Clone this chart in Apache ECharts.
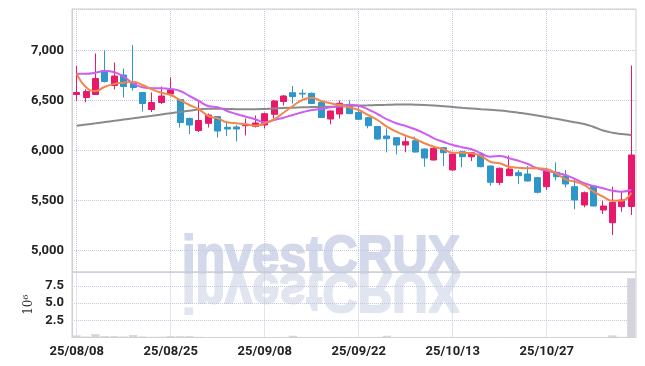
<!DOCTYPE html>
<html><head><meta charset="utf-8">
<script src="https://cdn.jsdelivr.net/npm/echarts@6/dist/echarts.min.js"></script>
<style>html,body{margin:0;padding:0;background:#fff}#c{width:645px;height:366px}</style>
</head><body><div id="c"></div>
<script>
const dates = ['25/08/08','25/08/11','25/08/12','25/08/13','25/08/14','25/08/18','25/08/19','25/08/20','25/08/21','25/08/22',
'25/08/25','25/08/26','25/08/27','25/08/28','25/08/29','25/09/01','25/09/02','25/09/03','25/09/04','25/09/05',
'25/09/08','25/09/09','25/09/10','25/09/11','25/09/12','25/09/15','25/09/16','25/09/17','25/09/18','25/09/19',
'25/09/22','25/09/23','25/09/24','25/09/25','25/09/26','25/09/29','25/09/30','25/10/01','25/10/02','25/10/10',
'25/10/13','25/10/14','25/10/15','25/10/16','25/10/17','25/10/20','25/10/21','25/10/22','25/10/23','25/10/24',
'25/10/27','25/10/28','25/10/29','25/10/30','25/10/31','25/11/03','25/11/04','25/11/05','25/11/06','25/11/07'];
const opens  = [6560,6530,6560,6800,6650,6755,6670,6580,6410,6480,6565,6510,6320,6200,6272,6340,6232,6235,6248,6240,
6255,6362,6490,6578,6572,6572,6480,6315,6365,6445,6380,6328,6240,6145,6128,6055,6098,6015,5905,6028,
5805,5988,5938,5962,5845,5680,5748,5778,5765,5728,5638,5782,5745,5638,5455,5645,5405,5278,5438,5440];
const closes = [6580,6590,6720,6690,6745,6640,6630,6470,6480,6545,6605,6280,6255,6300,6355,6195,6215,6215,6262,6275,
6368,6495,6545,6540,6565,6470,6330,6395,6472,6368,6312,6248,6115,6118,6055,6088,5985,5925,6022,5978,
5965,5938,5978,5838,5682,5822,5815,5748,5695,5582,5795,5738,5665,5505,5578,5445,5445,5482,5505,5955];
const lows   = [6495,6482,6555,6680,6610,6530,6600,6390,6385,6465,6540,6230,6165,6185,6230,6130,6145,6090,6150,6230,
6220,6320,6450,6470,6522,6465,6325,6262,6320,6365,6305,6222,6105,5982,5962,5982,5980,5838,5900,5845,
5800,5832,5895,5832,5648,5655,5745,5665,5690,5570,5605,5702,5632,5412,5432,5440,5365,5155,5388,5355];
const highs  = [6845,6612,6970,7000,6880,6820,7055,6585,6580,6640,6730,6515,6330,6495,6370,6345,6280,6255,6320,6350,
6380,6505,6555,6645,6612,6580,6490,6400,6500,6500,6455,6335,6245,6222,6135,6138,6140,6020,6045,6035,
5978,5995,5985,5975,5850,5830,5950,5805,5845,5735,5828,5882,5805,5728,5590,5650,5498,5638,5590,6850];
const ma5  = [6772,6632,6595,6638,6665,6678,6688,6655,6612,6578,6555,6505,6455,6412,6345,6322,6282,6272,6262,6248,
6272,6312,6378,6445,6505,6528,6495,6472,6455,6432,6405,6355,6305,6238,6188,6148,6115,6072,6038,6012,
5978,5978,5972,5945,5888,5872,5838,5828,5822,5822,5812,5772,5712,5688,5655,5588,5538,5498,5498,5578];
const ma10 = [6768,6768,6778,6795,6782,6738,6672,6632,6622,6622,6615,6595,6545,6495,6445,6432,6395,6365,6338,6312,
6282,6305,6328,6355,6382,6405,6415,6432,6448,6458,6448,6412,6365,6312,6272,6245,6212,6172,6122,6088,
6055,6032,6012,5972,5938,5945,5922,5898,5865,5822,5798,5778,5755,5715,5672,5645,5622,5598,5588,5607];
const ma60 = [6247,6260,6272,6285,6297,6310,6322,6335,6347,6360,6373,6385,6398,6410,6418,6418,6415,6413,6412,6413,
6416,6420,6425,6428,6432,6434,6436,6438,6440,6445,6450,6452,6455,6457,6460,6460,6458,6455,6450,6443,
6435,6427,6420,6413,6407,6400,6390,6378,6365,6350,6333,6318,6300,6282,6265,6235,6200,6178,6165,6155];
const volumes = [0.3,0.15,0.48,0.2,0.2,0.15,0.35,0.15,0.1,0.12,0.2,0.2,0.2,0.1,0.08,0.08,0.08,0.08,0.08,0.08,
0.08,0.08,0.08,0.25,0.08,0.08,0.08,0.08,0.08,0.08,0.08,0.08,0.08,0.25,0.08,0.08,0.08,0.08,0.08,0.08,
0.08,0.08,0.08,0.08,0.08,0.08,0.08,0.08,0.08,0.08,0.08,0.08,0.08,0.08,0.08,0.08,0.08,0.3,0.1,8.6];
const gridDates = ['25/08/08','25/08/25','25/09/08','25/09/22','25/10/13','25/10/27'];

const candleData = opens.map((o, i) => [o, closes[i], lows[i], highs[i]]);
const labelFont = {fontFamily: 'Roboto', fontWeight: 'bold', fontSize: 13, color: '#222'};
const dotted = {type: 'dotted', color: '#c3c9dd', width: 1};
const vLines = {
  silent: true, z: 1, symbol: ['none', 'none'], animation: false,
  label: {show: false}, lineStyle: dotted, emphasis: {disabled: true},
  data: gridDates.map(d => ({xAxis: d}))
};
const wmFont = 'bold 54px "Liberation Sans", Arial, sans-serif';

const chart = echarts.init(document.getElementById('c'));
chart.setOption({
  animation: false,
  backgroundColor: '#fff',
  grid: [
    {left: 72, right: 9, top: 9, height: 263, show: true, borderColor: '#cfcfcf', borderWidth: 1},
    {left: 72, right: 9, top: 272, height: 65.5, show: true, borderColor: '#cfcfcf', borderWidth: 1}
  ],
  graphic: [
    {type: 'text', x: 321, y: 285, z: -1, silent: true, scaleX: 0.9,
     style: {text: 'investCRUX', font: wmFont, fill: '#d3d9ea', stroke: '#d3d9ea', lineWidth: 2,
             align: 'center', verticalAlign: 'bottom'}},
    {type: 'text', x: 321, y: 263, z: -1, silent: true, scaleX: 0.9, scaleY: -1,
     style: {text: 'investCRUX', font: wmFont, fill: '#e1e5f0', stroke: '#e1e5f0', lineWidth: 2,
             align: 'center', verticalAlign: 'bottom'}}
  ],
  xAxis: [
    {type: 'category', gridIndex: 0, data: dates, boundaryGap: true,
     axisLine: {show: false}, axisTick: {show: false}, axisLabel: {show: false}, splitLine: {show: false}},
    {type: 'category', gridIndex: 1, data: dates, boundaryGap: true,
     axisLine: {show: true, lineStyle: {color: '#cfcfcf'}}, axisTick: {show: false},
     axisLabel: Object.assign({interval: 9, margin: 8}, labelFont), splitLine: {show: false}}
  ],
  yAxis: [
    {type: 'value', gridIndex: 0, min: 4785, max: 7415, splitNumber: 5,
     axisLine: {show: true, lineStyle: {color: '#cfcfcf'}}, axisTick: {show: false},
     axisLabel: Object.assign({margin: 8, showMinLabel: false, showMaxLabel: false,
       formatter: v => v.toLocaleString('en-US')}, labelFont),
     splitLine: {show: true, lineStyle: dotted}},
    {type: 'value', gridIndex: 1, min: 0, max: 9.5, interval: 2.5,
     name: '10\u2076', nameLocation: 'middle', nameRotate: 90, nameGap: 37,
     nameTextStyle: {fontFamily: 'DejaVu Serif', fontSize: 12, color: '#333'},
     axisLine: {show: true, lineStyle: {color: '#cfcfcf'}}, axisTick: {show: false},
     axisLabel: Object.assign({margin: 8, showMinLabel: false, showMaxLabel: false,
       formatter: v => v.toFixed(1)}, labelFont),
     splitLine: {show: true, lineStyle: dotted}}
  ],
  series: [
    {type: 'candlestick', xAxisIndex: 0, yAxisIndex: 0, data: candleData, barWidth: '70%',
     itemStyle: {color: '#e8196b', color0: '#2e96c9', borderColor: '#e8196b', borderColor0: '#2e96c9', borderWidth: 1},
     markLine: vLines},
    {type: 'line', xAxisIndex: 0, yAxisIndex: 0, data: ma60, smooth: true, showSymbol: false,
     lineStyle: {color: '#8a8a8a', width: 2}},
    {type: 'line', xAxisIndex: 0, yAxisIndex: 0, data: ma10, smooth: true, showSymbol: false,
     lineStyle: {color: '#cc5ef0', width: 2}},
    {type: 'line', xAxisIndex: 0, yAxisIndex: 0, data: ma5, smooth: true, showSymbol: false,
     lineStyle: {color: '#f0874d', width: 2}},
    {type: 'bar', xAxisIndex: 1, yAxisIndex: 1, data: volumes, barCategoryGap: '12%',
     itemStyle: {color: '#d4d4dc'}, markLine: vLines}
  ]
});
</script></body></html>
